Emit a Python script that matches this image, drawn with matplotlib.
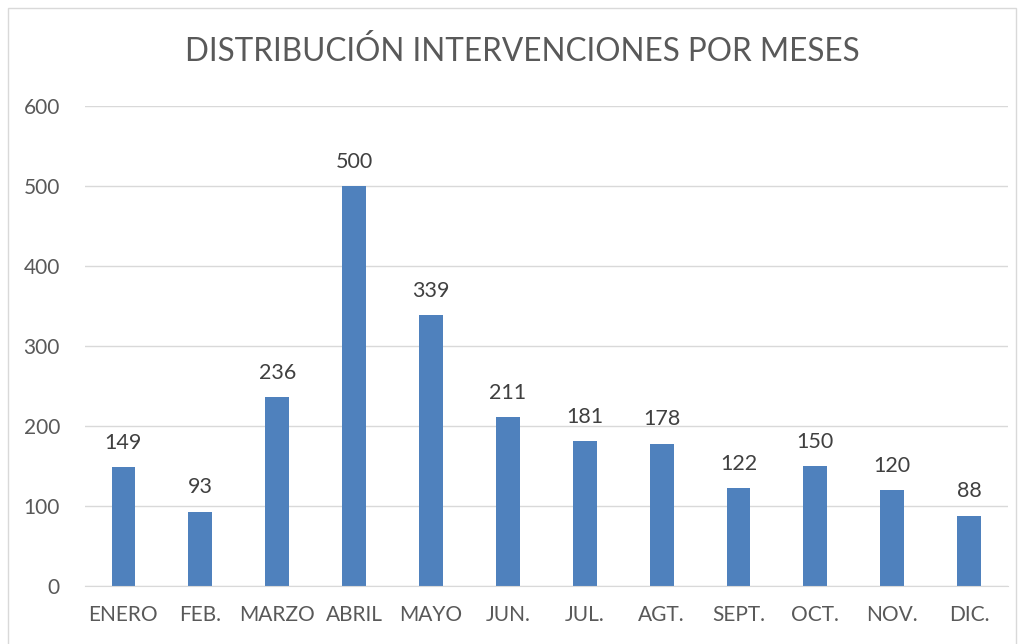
from matplotlib import pyplot as plt
from matplotlib.patches import Rectangle

months = ['ENERO', 'FEB.', 'MARZO', 'ABRIL', 'MAYO', 'JUN.', 'JUL.', 'AGT.',
          'SEPT.', 'OCT.', 'NOV.', 'DIC.']
interventions = [149, 93, 236, 500, 339, 211, 181, 178, 122, 150, 120, 88]
y_ticks = [0, 100, 200, 300, 400, 500, 600]

plt.rcParams['font.family'] = ['Lato', 'DejaVu Sans']
text_color = '#595959'
bar_color = '#4F81BD'

fig = plt.figure(figsize=(10.24, 6.44), dpi=100)
ax = fig.add_axes([0.083, 0.090, 0.901, 0.745])

x = list(range(len(months)))
bars = ax.bar(x, interventions, width=0.31, color=bar_color, zorder=3)

# value labels above bars
for xi, val in zip(x, interventions):
    ax.text(xi, val + 18, str(val), ha='center', va='bottom', fontsize=15.5, color='#404040')

ax.set_xlim(-0.5, len(months) - 0.5)
ax.set_ylim(0, 600)
ax.set_yticks(y_ticks)
ax.set_xticks(x)
ax.set_xticklabels(months)
ax.tick_params(axis='both', length=0, labelsize=15, labelcolor=text_color)
ax.tick_params(axis='x', pad=14)
ax.tick_params(axis='y', pad=18)

ax.grid(axis='y', color='#D9D9D9', linewidth=1, zorder=0)
for side in ['top', 'right', 'left']:
    ax.spines[side].set_visible(False)
ax.spines['bottom'].set_color('#D9D9D9')
ax.spines['bottom'].set_zorder(4)

fig.text(0.510, 0.920, 'DISTRIBUCIÓN INTERVENCIONES POR MESES', ha='center', va='center',
         fontsize=22.7, color=text_color)

# chart border
fig.patches.append(Rectangle((0.008, -0.01), 0.984, 0.998, transform=fig.transFigure,
                             fill=False, edgecolor='#D9D9D9', linewidth=1))

fig.savefig('out.png', dpi=100)
